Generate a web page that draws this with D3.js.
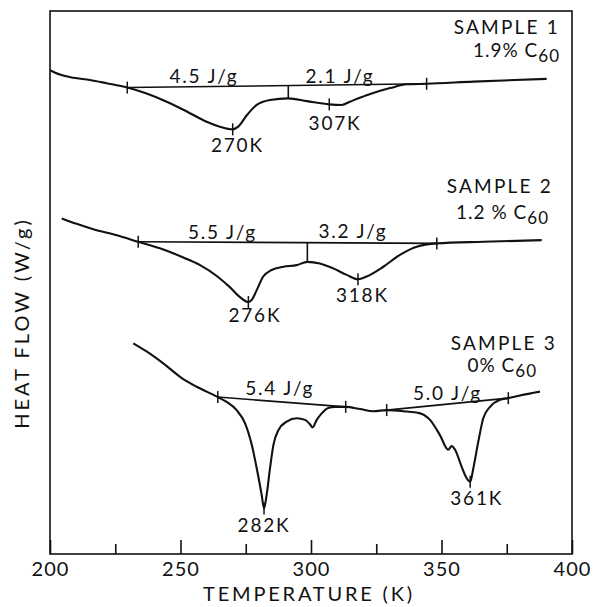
<!DOCTYPE html>
<html>
<head>
<meta charset="utf-8">
<script src="https://cdn.jsdelivr.net/npm/d3@7"></script>
<style>
  body { margin: 0; background: #fff; }
  text { font-family: Lato, "DejaVu Sans", sans-serif; fill: #111; }
</style>
</head>
<body>
<svg id="chart" width="594" height="607"></svg>
<script>
// temperature (K) vs heat flow (arbitrary units, curves offset)
var sample1 = [[200,8.91],[203.8,8.83],[208.9,8.77],[215.3,8.73],[221.7,8.67],[229.6,8.59],[237,8.48],[244.7,8.33],
  [252.4,8.15],[260,7.96],[265.1,7.87],[270,7.82],[272.1,7.87],[275.4,8.08],[279.2,8.27],[284.3,8.36],[291.3,8.39],
  [298.4,8.34],[307,8.28],[311.8,8.27],[314.9,8.33],[321.3,8.45],[330.3,8.58],[336.7,8.65],[344.3,8.66],[362.2,8.7],[390.3,8.75]];
var sample2 = [[204.5,6.18],[210.2,6.08],[216.6,5.98],[225.6,5.87],[233.8,5.75],[242.1,5.63],[251.1,5.46],[257.5,5.32],
  [263.9,5.12],[269,4.91],[272.8,4.73],[276,4.64],[277.3,4.68],[279.2,4.86],[281.7,5.11],[284.9,5.23],[289.4,5.29],
  [294.5,5.32],[298.6,5.38],[303.4,5.35],[308.5,5.26],[313.7,5.14],[318,5.06],[321.3,5.11],[327.7,5.29],[334.1,5.51],
  [340.5,5.66],[348.2,5.72],[366,5.75],[388.4,5.78]];
var sample3 = [[231.9,3.88],[237,3.73],[243.4,3.51],[250.5,3.24],[256.2,3.08],[264.3,2.89],[267.7,2.8],[271.5,2.65],
  [274.7,2.41],[277.3,2.01],[279.2,1.58],[281.1,1.09],[282,0.84],[283,1.09],[284.3,1.58],[285.6,2.01],[287.5,2.28],
  [290.7,2.44],[294.5,2.5],[297.7,2.47],[299.6,2.39],[300.6,2.33],[302.2,2.47],[304.1,2.59],[306.6,2.69],[309.2,2.71],
  [313.3,2.71],[318.8,2.67],[323.9,2.63],[329,2.65],[335.4,2.63],[341.8,2.59],[345.6,2.47],[349.4,2.19],[352.6,1.92],
  [353.9,1.99],[355.2,1.92],[357.7,1.61],[359.7,1.39],[361,1.33],[362.2,1.58],[364.1,2.07],[366,2.5],[368.6,2.71],
  [372.4,2.84],[375.6,2.87],[380.1,2.92],[387.7,2.99]];

// integration baselines [T1, v1, T2, v2]
var baselines = [[229.6,8.59,344.3,8.66],[233.8,5.75,348.2,5.72],[264.3,2.89,313.3,2.71],[329,2.65,375.6,2.87]];
// vertical dividers between the two areas [T, v top, v bottom]
var dividers = [[291.3,8.63,8.39],[298.6,5.73,5.38]];
// short ticks crossing the curves [T, v]
var marks = [[229.6,8.59],[344.3,8.66],[270,7.82],[307,8.28],
  [233.8,5.75],[348.2,5.72],[276,4.64],[318,5.06],
  [264.3,2.89],[313.3,2.71],[329,2.65],[375.6,2.87],[282,0.84],[361,1.33]];

var labels = [["4.5 J/g",259,8.67],["2.1 J/g",311.1,8.67],["270K",271.8,7.41],["307K",309.2,7.81],
  ["5.5 J/g",266.1,5.81],["3.2 J/g",316.1,5.82],["276K",278.5,4.28],["318K",319.7,4.65],
  ["5.4 J/g",288,2.93],["5.0 J/g",352.3,2.84],["361K",363.5,0.9],["282K",282,0.41]];

var sampleNames = ["SAMPLE 1","SAMPLE 2","SAMPLE 3"];
var sampleC60 = ["1.9%","1.2 %","0%"];

var xTicks = [200,225,250,275,300,325,350,375,400];

var svg = d3.select("#chart");
var x = d3.scaleLinear().domain([200,400]).range([50,572]);
var y = d3.scaleLinear().domain([0,10]).range([554,11]);

svg.append("rect").attr("x",50).attr("y",11).attr("width",522).attr("height",543)
  .attr("fill","none").attr("stroke","#111").attr("stroke-width",1.6);

var axis = d3.axisBottom(x).tickValues(xTicks).tickSizeOuter(0)
  .tickFormat(function (d) { return d % 50 == 0 ? d : ""; });
var ax = svg.append("g").attr("transform","translate(0,554)").call(axis);
ax.select(".domain").remove();
ax.selectAll(".tick line").attr("y2", function (d) { return d % 50 == 0 ? -14 : -10; })
  .attr("stroke","#111").attr("stroke-width",1.6);
ax.selectAll(".tick text").attr("y",8).attr("dy","0.71em")
  .style("font-size","20px").style("letter-spacing","1px").style("font-family","Lato, sans-serif").attr("fill","#111");

var line = d3.line().x(function (d) { return x(d[0]); }).y(function (d) { return y(d[1]); })
  .curve(d3.curveMonotoneX);

svg.selectAll(".curve").data([sample1,sample2,sample3]).enter().append("path")
  .attr("class","curve").attr("d",line).attr("fill","none").attr("stroke","#111").attr("stroke-width",2.1);

svg.selectAll(".base").data(baselines).enter().append("line")
  .attr("x1",function (d) { return x(d[0]); }).attr("y1",function (d) { return y(d[1]); })
  .attr("x2",function (d) { return x(d[2]); }).attr("y2",function (d) { return y(d[3]); })
  .attr("stroke","#111").attr("stroke-width",1.6);

svg.selectAll(".div").data(dividers).enter().append("line")
  .attr("x1",function (d) { return x(d[0]); }).attr("x2",function (d) { return x(d[0]); })
  .attr("y1",function (d) { return y(d[1]); }).attr("y2",function (d) { return y(d[2]); })
  .attr("stroke","#111").attr("stroke-width",1.6);

svg.selectAll(".mark").data(marks).enter().append("line")
  .attr("x1",function (d) { return x(d[0]); }).attr("x2",function (d) { return x(d[0]); })
  .attr("y1",function (d) { return y(d[1]) - 6; }).attr("y2",function (d) { return y(d[1]) + 6; })
  .attr("stroke","#111").attr("stroke-width",1.5);

svg.selectAll(".lab").data(labels).enter().append("text")
  .attr("x",function (d) { return x(d[1]); }).attr("y",function (d) { return y(d[2]); })
  .attr("text-anchor","middle").style("font-size","19px").style("letter-spacing","1.8px")
  .text(function (d) { return d[0]; });

//sample titles
var namePos = [[560,34],[553,193],[557,350]];
var c60Pos = [[560,57],[549,219],[537,372]];
sampleNames.forEach(function (s, i) {
  svg.append("text").attr("x",namePos[i][0]).attr("y",namePos[i][1]).attr("text-anchor","end")
    .style("font-size","19px").style("letter-spacing","2.2px").text(s);
  var t = svg.append("text").attr("x",c60Pos[i][0]).attr("y",c60Pos[i][1]).attr("text-anchor","end")
    .style("font-size","19px").style("letter-spacing","1px");
  t.append("tspan").text(sampleC60[i] + "  C");
  t.append("tspan").attr("dy",5).style("font-size","17px").text("60");
});

svg.append("text").attr("x",309).attr("y",601).attr("text-anchor","middle")
  .style("font-size","20px").style("letter-spacing","2.8px").text("TEMPERATURE (K)");
svg.append("text").attr("transform","translate(29,323) rotate(-90)").attr("text-anchor","middle")
  .style("font-size","20px").style("letter-spacing","3px").text("HEAT FLOW  (W/g)");
</script>
</body>
</html>
